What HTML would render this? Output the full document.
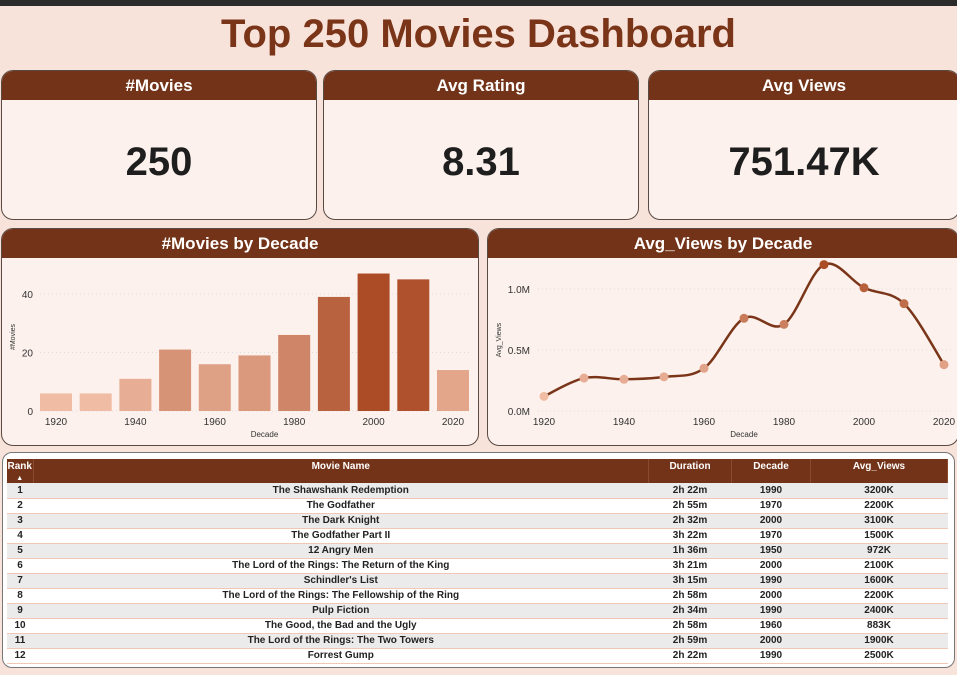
<!DOCTYPE html>
<html><head><meta charset="utf-8">
<style>
*{box-sizing:border-box;margin:0;padding:0}
body{width:957px;height:675px;overflow:hidden;background:#f8e3db;font-family:"Liberation Sans Narrow","Liberation Sans",sans-serif;position:relative}
.topbar{position:absolute;left:0;top:0;width:957px;height:6px;background:#2b2b2b}
.title{position:absolute;left:0;top:8px;width:957px;text-align:center;font:bold 40px "Liberation Sans",sans-serif;color:#7a3519;line-height:52px}
.card{position:absolute;background:#fcf1ec;border:1.5px solid #5a4a44;border-radius:12px;overflow:hidden}
.hdr{height:29px;background:#733318;color:#fff;font:bold 17px "Liberation Sans",sans-serif;text-align:center;line-height:30px}
.kpi{font:bold 40px "Liberation Sans",sans-serif;color:#1e1e1e;text-align:center;margin-top:40px}
.table-box{position:absolute;left:2px;top:452px;width:953px;height:216px;background:#fff;border:1.5px solid #777;border-radius:10px;overflow:hidden}
table{position:absolute;left:4px;top:6px;width:941px;border-collapse:collapse;font-size:10px;font-weight:bold;color:#222;table-layout:fixed}
th{background:#733318;color:#fff;height:22px;font-size:10px;vertical-align:top;padding-top:2px;line-height:11px;border-right:1px solid #8a4a30;overflow:hidden}
td{height:15px;line-height:13px;text-align:center;border-bottom:1.5px solid #f0c9b5;padding:0;white-space:nowrap}
tr:nth-child(even) td{background:#ebebeb}
</style></head><body>
<div class="topbar"></div>
<div class="title">Top 250 Movies Dashboard</div>

<div class="card" style="left:1px;top:70px;width:316px;height:150px"><div class="hdr">#Movies</div><div class="kpi">250</div></div>
<div class="card" style="left:323px;top:70px;width:316px;height:150px"><div class="hdr">Avg Rating</div><div class="kpi">8.31</div></div>
<div class="card" style="left:648px;top:70px;width:312px;height:150px"><div class="hdr">Avg Views</div><div class="kpi">751.47K</div></div>

<div class="card" style="left:1px;top:228px;width:478px;height:218px"><div class="hdr">#Movies by Decade</div></div>
<div class="card" style="left:487px;top:228px;width:472px;height:218px"><div class="hdr">Avg_Views by Decade</div></div>

<svg id="charts" width="957" height="675" style="position:absolute;left:0;top:0;pointer-events:none" font-family="Liberation Sans, sans-serif"></svg>

<div class="table-box">
<table>
<colgroup><col style="width:26px"><col><col style="width:83px"><col style="width:79px"><col style="width:137px"></colgroup>
<tr><th>Rank<br><span style="font-size:7px;line-height:8px">▲</span></th><th>Movie Name</th><th>Duration</th><th>Decade</th><th>Avg_Views</th></tr>
<tr><td>1</td><td>The Shawshank Redemption</td><td>2h 22m</td><td>1990</td><td>3200K</td></tr>
<tr><td>2</td><td>The Godfather</td><td>2h 55m</td><td>1970</td><td>2200K</td></tr>
<tr><td>3</td><td>The Dark Knight</td><td>2h 32m</td><td>2000</td><td>3100K</td></tr>
<tr><td>4</td><td>The Godfather Part II</td><td>3h 22m</td><td>1970</td><td>1500K</td></tr>
<tr><td>5</td><td>12 Angry Men</td><td>1h 36m</td><td>1950</td><td>972K</td></tr>
<tr><td>6</td><td>The Lord of the Rings: The Return of the King</td><td>3h 21m</td><td>2000</td><td>2100K</td></tr>
<tr><td>7</td><td>Schindler's List</td><td>3h 15m</td><td>1990</td><td>1600K</td></tr>
<tr><td>8</td><td>The Lord of the Rings: The Fellowship of the Ring</td><td>2h 58m</td><td>2000</td><td>2200K</td></tr>
<tr><td>9</td><td>Pulp Fiction</td><td>2h 34m</td><td>1990</td><td>2400K</td></tr>
<tr><td>10</td><td>The Good, the Bad and the Ugly</td><td>2h 58m</td><td>1960</td><td>883K</td></tr>
<tr><td>11</td><td>The Lord of the Rings: The Two Towers</td><td>2h 59m</td><td>2000</td><td>1900K</td></tr>
<tr><td>12</td><td>Forrest Gump</td><td>2h 22m</td><td>1990</td><td>2500K</td></tr>
</table>
</div>

<script>
const decades=[1920,1930,1940,1950,1960,1970,1980,1990,2000,2010,2020];
const movieCounts=[6,6,11,21,16,19,26,39,47,45,14];
const avgViews=[0.12,0.27,0.26,0.28,0.35,0.76,0.71,1.2,1.01,0.88,0.38];
const countTicks=[0,20,40];
const viewTicks=[0,0.5,1.0];
const viewTickLabels=["0.0M","0.5M","1.0M"];
const xTickLabels=[1920,1940,1960,1980,2000,2020];

const NS="http://www.w3.org/2000/svg";
const svg=document.getElementById('charts');
function mk(tag,attrs,parent){const e=document.createElementNS(NS,tag);for(const k in attrs)e.setAttribute(k,attrs[k]);(parent||svg).appendChild(e);return e;}
function mix(a,b,t){return 'rgb('+a.map((v,i)=>Math.round(v+(b[i]-v)*t)).join(',')+')';}
const light=[240,188,164],dark=[172,76,38];

const bx=d=>56+(d-1920)*3.97, by=v=>411-v*(117/40);
const maxC=Math.max(...movieCounts),minC=Math.min(...movieCounts);
countTicks.forEach(t=>{
 const g=mk('line',{x1:40,x2:472,y1:by(t),y2:by(t),stroke:'#ddd','stroke-dasharray':'1,3'});
 
 const l=mk('text',{x:33,y:by(t)+4,'text-anchor':'end','font-size':10,fill:'#333'});l.textContent=t;
 
});
decades.forEach((d,i)=>{
 const v=movieCounts[i];
 const r=mk('rect',{x:bx(d)-16,y:by(v),width:32,height:by(0)-by(v),fill:mix(light,dark,(v-minC)/(maxC-minC))});
 
});
xTickLabels.forEach(d=>{const l=mk('text',{x:bx(d),y:425,'text-anchor':'middle','font-size':10,fill:'#333'});l.textContent=d;
 });
let t1=mk('text',{x:bx(1970)+10,y:437,'text-anchor':'middle','font-size':8,fill:'#333'});t1.textContent='Decade';

let t2=mk('text',{x:15,y:337,'text-anchor':'middle','font-size':7,fill:'#333',transform:'rotate(-90 15 337)'});t2.textContent='#Movies';


const lx=d=>544+(d-1920)*4, ly=v=>411-v*122;
viewTicks.forEach((t,i)=>{
 const g=mk('line',{x1:538,x2:952,y1:ly(t),y2:ly(t),stroke:'#ddd','stroke-dasharray':'1,3'});
 
 const l=mk('text',{x:530,y:ly(t)+4,'text-anchor':'end','font-size':10,fill:'#333'});l.textContent=viewTickLabels[i];
 
});
const pts=decades.map((d,i)=>[lx(d),ly(avgViews[i])]);
let dstr='M'+pts[0][0]+','+pts[0][1];
for(let i=0;i<pts.length-1;i++){
 const p0=pts[Math.max(i-1,0)],p1=pts[i],p2=pts[i+1],p3=pts[Math.min(i+2,pts.length-1)];
 const c1=[p1[0]+(p2[0]-p0[0])/6,p1[1]+(p2[1]-p0[1])/6],c2=[p2[0]-(p3[0]-p1[0])/6,p2[1]-(p3[1]-p1[1])/6];
 dstr+=' C'+c1+' '+c2+' '+p2;
}
const path=mk('path',{d:dstr,fill:'none',stroke:'#7a3519','stroke-width':2.5});

const maxV=Math.max(...avgViews),minV=Math.min(...avgViews);
pts.forEach((p,i)=>{
 const c=mk('circle',{cx:p[0],cy:p[1],r:4.5,fill:mix(light,dark,(avgViews[i]-minV)/(maxV-minV))});
 
});
xTickLabels.forEach(d=>{const l=mk('text',{x:lx(d),y:425,'text-anchor':'middle','font-size':10,fill:'#333'});l.textContent=d;
 });
let t3=mk('text',{x:744,y:437,'text-anchor':'middle','font-size':8,fill:'#333'});t3.textContent='Decade';

let t4=mk('text',{x:501,y:340,'text-anchor':'middle','font-size':7,fill:'#333',transform:'rotate(-90 501 340)'});t4.textContent='Avg_Views';

</script>
</body></html>
